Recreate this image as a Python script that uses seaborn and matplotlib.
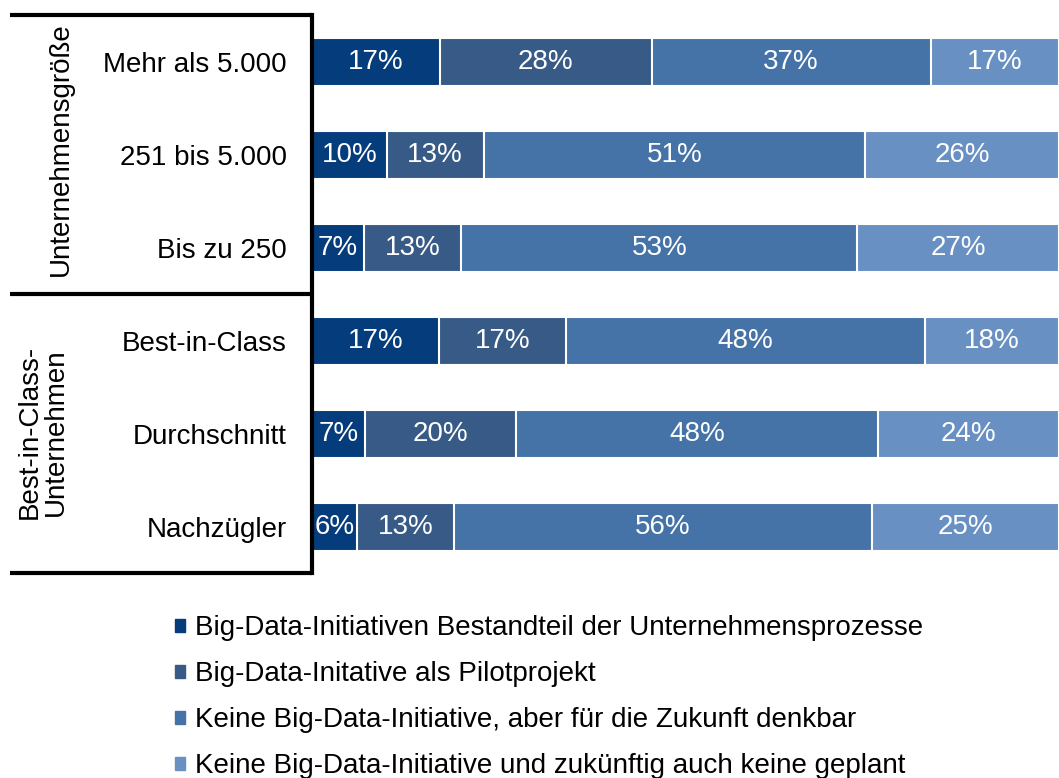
import numpy as np
import pandas as pd
import seaborn as sns
import matplotlib.pyplot as plt
from matplotlib.patches import Rectangle
from matplotlib import transforms

rows = ["Mehr als 5.000", "251 bis 5.000", "Bis zu 250",
        "Best-in-Class", "Durchschnitt", "Nachzügler"]
teil = [17, 10, 7, 17, 7, 6]
pilot = [28, 13, 13, 17, 20, 13]
zukunft = [37, 51, 53, 48, 48, 56]
keine = [17, 26, 27, 18, 24, 25]

series = ["Big-Data-Initiativen Bestandteil der Unternehmensprozesse",
          "Big-Data-Initative als Pilotprojekt",
          "Keine Big-Data-Initiative, aber für die Zukunft denkbar",
          "Keine Big-Data-Initiative und zukünftig auch keine geplant"]
colors = ["#053C7B", "#385A86", "#4572A7", "#6990C3"]

groups = ["Unternehmensgröße", "Best-in-Class-\nUnternehmen"]

sns.set_theme(style="white")
plt.rcParams["font.family"] = ["Liberation Sans", "DejaVu Sans"]
plt.rcParams["text.color"] = "black"
plt.rcParams["ytick.color"] = "black"
plt.rcParams["axes.labelcolor"] = "black"

fs = 20

vals = np.array([teil, pilot, zukunft, keine], dtype=float)
vals = vals / vals.sum(axis=0) * 100   # bars fill the full width
cum = vals.cumsum(axis=0)
raw = [teil, pilot, zukunft, keine]

fig = plt.figure(figsize=(10.59, 7.78), dpi=100)
ax = fig.add_axes([0.2946, 0.2629, 0.7054, 0.7172])

# stacked bars: draw cumulative totals from the back to the front
for i in range(3, -1, -1):
    df = pd.DataFrame({"row": rows, "val": cum[i]})
    sns.barplot(data=df, x="val", y="row", orient="y", color=colors[i],
                width=0.52, edgecolor="white", linewidth=1.5, ax=ax,
                saturation=1)

for i in range(4):
    for j in range(len(rows)):
        mid = cum[i][j] - vals[i][j] / 2
        ax.text(mid, j, f"{raw[i][j]}%", ha="center", va="center",
                color="white", fontsize=fs)

ax.set_xlim(0, 100)
ax.set_ylim(5.5, -0.5)
ax.set_xlabel("")
ax.set_ylabel("")
ax.set_xticks([])
ax.tick_params(axis="y", length=0, pad=18, labelsize=fs, labelcolor="black")
for s in ["top", "right", "bottom"]:
    ax.spines[s].set_visible(False)
ax.spines["left"].set_linewidth(3)
ax.spines["left"].set_color("black")

# table lines on the left
tr = transforms.blended_transform_factory(ax.transAxes, ax.transData)
for y in [-0.5, 2.5, 5.5]:
    ax.plot([-0.404, 0], [y, y], transform=tr, clip_on=False,
            color="black", lw=3, solid_capstyle="butt")

ax.text(-0.336, 0.94, groups[0], transform=tr, rotation=90,
        ha="center", va="center", fontsize=fs)
ax.text(-0.360, 3.98, groups[1], transform=tr, rotation=90,
        ha="center", va="center", fontsize=fs, multialignment="center",
        linespacing=1.0)

handles = [Rectangle((0, 0), 1, 1, color=c) for c in colors]
leg = fig.legend(handles, series, loc="upper left",
                 bbox_to_anchor=(0.165, 0.209), frameon=False, fontsize=fs,
                 handlelength=0.36, handleheight=0.36, handletextpad=0.36,
                 labelspacing=0.72, borderpad=0, borderaxespad=0)
for t in leg.get_texts():
    t.set_color("black")

plt.savefig("out.png", dpi=100)
